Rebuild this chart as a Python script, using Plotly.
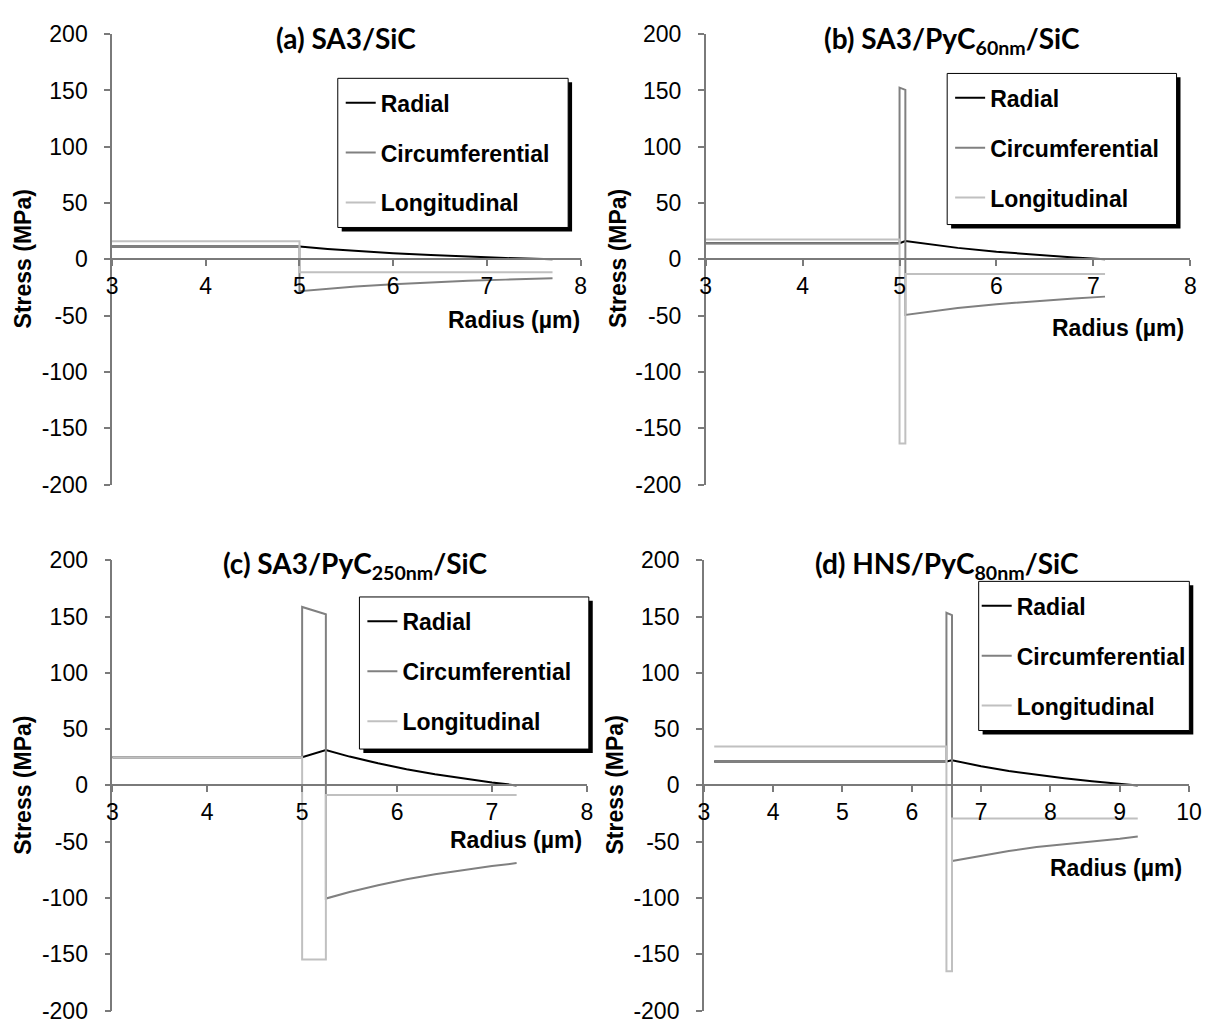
import plotly.graph_objects as go

W, H = 1225, 1036

# ---------------- data ----------------
y_tick_vals = [-200, -150, -100, -50, 0, 50, 100, 150, 200]
y_tick_text = ["-200", "-150", "-100", "-50", "0", "50", "100", "150", "200"]
x_ticks_ac = [3, 4, 5, 6, 7, 8]
x_ticks_d = [3, 4, 5, 6, 7, 8, 9, 10]
series_names = ["Radial", "Circumferential", "Longitudinal"]

# (a) SA3/SiC
rad_x_a = [3, 5, 5.3, 5.6, 6.0, 6.4, 6.8, 7.2, 7.7]
rad_y_a = [11.5, 11.5, 9.3, 7.5, 5.4, 3.8, 2.4, 1.2, 0]
cir_x_a = [3, 5, 5, 5.3, 5.6, 6.0, 6.4, 6.8, 7.2, 7.7]
cir_y_a = [11.5, 11.5, -28.3, -26.1, -24.2, -22.2, -20.5, -19.1, -18.0, -16.8]
lon_x_a = [3, 5, 5, 7.7]
lon_y_a = [16, 16, -11.5, -11.5]

# (b) SA3/PyC60nm/SiC
rad_x_b = [3, 5.0, 5.06, 5.3, 5.6, 6.0, 6.4, 6.8, 7.12]
rad_y_b = [14.4, 14.4, 16.2, 13.3, 10.2, 6.8, 3.9, 1.6, 0]
cir_x_b = [3, 5.0, 5.0, 5.06, 5.06, 5.3, 5.6, 6.0, 6.4, 6.8, 7.12]
cir_y_b = [14.4, 14.4, 152.5, 150.5, -49.3, -46.4, -43.3, -39.8, -37.0, -34.7, -33.1]
lon_x_b = [3, 5.0, 5.0, 5.06, 5.06, 7.12]
lon_y_b = [17.6, 17.6, -163.5, -163.5, -13, -13]

# (c) SA3/PyC250nm/SiC
rad_x_c = [3, 5.0, 5.25, 5.5, 5.8, 6.1, 6.4, 6.7, 7.0, 7.26]
rad_y_c = [25, 25, 31.5, 25.6, 19.6, 14.4, 9.9, 6.0, 2.6, 0]
cir_x_c = [3, 5.0, 5.0, 5.25, 5.25, 5.5, 5.8, 6.1, 6.4, 6.7, 7.0, 7.26]
cir_y_c = [25, 25, 158.5, 152, -100.5, -94.6, -88.6, -83.4, -78.9, -75.0, -71.6, -69.0]
lon_x_c = [3, 5.0, 5.0, 5.25, 5.25, 7.26]
lon_y_c = [25, 25, -154.5, -154.5, -8.5, -8.5]

# (d) HNS/PyC80nm/SiC
rad_x_d = [3.15, 6.5, 6.58, 7.0, 7.4, 7.8, 8.2, 8.6, 9.0, 9.26]
rad_y_d = [21.2, 21.2, 22.4, 17.0, 12.8, 9.3, 6.3, 3.6, 1.3, 0]
cir_x_d = [3.15, 6.5, 6.5, 6.58, 6.58, 7.0, 7.4, 7.8, 8.2, 8.6, 9.0, 9.26]
cir_y_d = [21.2, 21.2, 153.3, 151.2, -67.2, -62.4, -58.2, -54.7, -51.9, -49.7, -47.4, -45.4]
lon_x_d = [3.15, 6.5, 6.5, 6.58, 6.58, 9.26]
lon_y_d = [34.5, 34.5, -165, -165, -29.3, -29.3]

titles = ["(a) SA3/SiC",
          "(b) SA3/PyC<sub>60nm</sub>/SiC",
          "(c) SA3/PyC<sub>250nm</sub>/SiC",
          "(d) HNS/PyC<sub>80nm</sub>/SiC"]

# ---------------- styling / layout ----------------
def px(x):
    return x / W

def py(y):
    return 1 - y / H

colors = ["#000000", "#808080", "#c0c0c0"]
AXC = "#7a7a7a"
FONT = "Liberation Sans, Arial, sans-serif"
FS = 23

panels = [
    dict(series=[(rad_x_a, rad_y_a), (cir_x_a, cir_y_a), (lon_x_a, lon_y_a)],
         xr=[3, 8], xt=x_ticks_ac, xpx=(107.7, 583.7), ypx=(21.7, 483.7),
         box=(337, 67, 571, 220), legdx=3, title=(345, 6), rad=(585, 315), stress=(17, 252)),
    dict(series=[(rad_x_b, rad_y_b), (cir_x_b, cir_y_b), (lon_x_b, lon_y_b)],
         xr=[3, 8], xt=x_ticks_ac, xpx=(710.7, 1203), ypx=(21.7, 483.7),
         box=(956, 62, 1189, 217), legdx=3, title=(961, 6), rad=(1199, 323), stress=(621, 252)),
    dict(series=[(rad_x_c, rad_y_c), (cir_x_c, cir_y_c), (lon_x_c, lon_y_c)],
         xr=[3, 8], xt=x_ticks_ac, xpx=(108, 590), ypx=(561.3, 1023.3),
         box=(359, 599, 592, 755), legdx=3, title=(354, 545), rad=(587, 848), stress=(17, 792)),
    dict(series=[(rad_x_d, rad_y_d), (cir_x_d, cir_y_d), (lon_x_d, lon_y_d)],
         xr=[3, 10], xt=x_ticks_d, xpx=(708.8, 1201.7), ypx=(561.3, 1023.3),
         box=(988, 583, 1202, 736), legdx=-2, title=(956, 545), rad=(1197, 877), stress=(619, 792)),
]

fig = go.Figure()
layout = dict(width=W, height=H, margin=dict(l=0, r=0, t=0, b=0),
              paper_bgcolor="white", plot_bgcolor="white", showlegend=True)
shapes, annotations = [], []

for i, p in enumerate(panels):
    n = "" if i == 0 else str(i + 1)
    xa, ya = "x" + n, "y" + n
    leg = "legend" + n
    for k, (xs, ys) in enumerate(p["series"]):
        fig.add_trace(go.Scatter(
            x=xs, y=ys, mode="lines", name=series_names[k],
            line=dict(color=colors[k], width=2),
            xaxis=xa, yaxis=ya, legend=leg, legendgroup=f"{i}_{k}",
            hoverinfo="skip"))
    y0p, y1p = p["ypx"]
    ydom = [py(y1p), py(y0p)]
    layout["xaxis" + n] = dict(
        domain=[px(p["xpx"][0]), px(p["xpx"][1])], range=p["xr"],
        anchor="free", position=(ydom[0] + ydom[1]) / 2,
        tickvals=p["xt"], ticktext=[str(v) for v in p["xt"]],
        ticks="outside", ticklen=6, tickwidth=1.5, tickcolor=AXC,
        showline=True, linecolor=AXC, linewidth=1.5,
        showgrid=False, zeroline=False, fixedrange=True,
        tickfont=dict(family=FONT, size=FS, color="black"),
        ticklabelstandoff=0)
    layout["yaxis" + n] = dict(
        domain=ydom, range=[-200, 200], anchor=xa,
        tickvals=y_tick_vals, ticktext=y_tick_text,
        ticks="outside", ticklen=6, tickwidth=1.5, tickcolor=AXC,
        showline=True, linecolor=AXC, linewidth=1.5,
        showgrid=False, zeroline=False, fixedrange=True,
        tickfont=dict(family=FONT, size=FS, color="black"),
        ticklabelstandoff=12)
    bx0, by0, bx1, by1 = p["box"]
    shapes.append(dict(type="rect", xref="paper", yref="paper", layer="above",
                       x0=px(bx0 + 4), x1=px(bx1 + 4), y0=py(by1 + 4), y1=py(by0 + 4),
                       line=dict(width=0), fillcolor="black"))
    shapes.append(dict(type="rect", xref="paper", yref="paper", layer="above",
                       x0=px(bx0), x1=px(bx1), y0=py(by1), y1=py(by0),
                       line=dict(width=1, color="black"), fillcolor="white"))
    layout[leg] = dict(x=px(bx0 + p["legdx"]), y=py(by0 + 3), xanchor="left", yanchor="top",
                       bgcolor="rgba(0,0,0,0)", borderwidth=0, itemwidth=30,
                       tracegroupgap=17, traceorder="grouped",
                       font=dict(family=FONT, size=FS, color="black", weight="bold"))
    annotations.append(dict(text=titles[i], xref="paper", yref="paper",
                            x=px(p["title"][0]), y=py(p["title"][1]),
                            xanchor="center", yanchor="top", showarrow=False,
                            font=dict(family="Lato, sans-serif", size=28,
                                      color="black", weight="bold")))
    annotations.append(dict(text="Radius (µm)", xref="paper", yref="paper",
                            x=px(p["rad"][0]), y=py(p["rad"][1]),
                            xanchor="right", yanchor="middle", showarrow=False,
                            font=dict(family=FONT, size=FS, color="black", weight="bold")))
    annotations.append(dict(text="Stress (MPa)", xref="paper", yref="paper",
                            x=px(p["stress"][0]), y=py(p["stress"][1]),
                            xanchor="center", yanchor="middle", textangle=-90,
                            showarrow=False,
                            font=dict(family=FONT, size=FS, color="black", weight="bold")))

layout["shapes"] = shapes
layout["annotations"] = annotations
fig.update_layout(**layout)
fig.write_html("out.html")
